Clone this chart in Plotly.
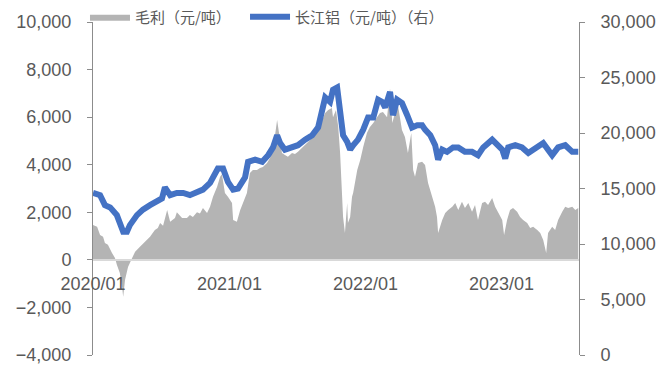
import plotly.graph_objects as go

# ---- data ----
margin_dates = [
    "2020-01-01", "2020-01-12", "2020-01-20", "2020-01-28", "2020-02-02", "2020-02-10", "2020-02-21",
    "2020-02-29", "2020-03-05", "2020-03-13", "2020-03-19", "2020-03-22", "2020-03-27", "2020-04-04",
    "2020-04-15", "2020-04-23", "2020-05-06", "2020-05-20", "2020-06-02", "2020-06-15", "2020-06-23",
    "2020-06-29", "2020-07-07", "2020-07-18", "2020-07-26", "2020-08-08", "2020-08-13", "2020-08-27",
    "2020-09-09", "2020-09-17", "2020-09-25", "2020-10-06", "2020-10-14", "2020-10-22", "2020-11-02",
    "2020-11-10", "2020-11-18", "2020-11-29", "2020-12-07", "2020-12-12", "2020-12-20", "2020-12-28",
    "2021-01-08", "2021-01-11", "2021-01-21", "2021-01-30", "2021-02-07", "2021-02-17", "2021-02-25",
    "2021-03-05", "2021-03-16", "2021-03-24", "2021-04-01", "2021-04-12", "2021-04-20", "2021-04-28",
    "2021-05-09", "2021-05-12", "2021-05-22", "2021-05-30", "2021-06-07", "2021-06-18", "2021-06-26",
    "2021-07-04", "2021-07-15", "2021-07-23", "2021-07-31", "2021-08-11", "2021-08-19", "2021-08-27",
    "2021-09-07", "2021-09-15", "2021-09-23", "2021-10-03", "2021-10-06", "2021-10-14", "2021-10-20",
    "2021-10-25", "2021-10-30", "2021-11-02", "2021-11-07", "2021-11-13", "2021-11-15", "2021-11-21",
    "2021-11-26", "2021-11-29", "2021-12-10", "2021-12-18", "2021-12-26", "2022-01-05", "2022-01-13",
    "2022-01-22", "2022-02-01", "2022-02-09", "2022-02-17", "2022-02-28", "2022-03-08", "2022-03-14",
    "2022-03-22", "2022-03-30", "2022-04-09", "2022-04-17", "2022-04-25", "2022-05-04", "2022-05-09",
    "2022-05-14", "2022-05-22", "2022-06-02", "2022-06-10", "2022-06-18", "2022-06-29", "2022-07-07",
    "2022-07-12", "2022-07-15", "2022-07-26", "2022-08-03", "2022-08-11", "2022-08-22", "2022-08-30",
    "2022-09-07", "2022-09-17", "2022-09-25", "2022-10-04", "2022-10-14", "2022-10-22", "2022-10-30",
    "2022-11-10", "2022-11-18", "2022-11-26", "2022-12-07", "2022-12-15", "2022-12-23", "2023-01-03",
    "2023-01-08", "2023-01-16", "2023-01-24", "2023-02-01", "2023-02-12", "2023-02-20", "2023-02-28",
    "2023-03-11", "2023-03-19", "2023-03-27", "2023-04-07", "2023-04-15", "2023-04-23", "2023-05-01",
    "2023-05-06", "2023-05-17", "2023-05-25", "2023-06-02", "2023-06-13", "2023-06-21", "2023-06-29",
    "2023-07-10", "2023-07-18", "2023-07-26",
]
margin_values = [
    1470, 1390, 1050, 970, 710, 630, 290,
    80, -210, -550, -1130, -1550, -840, -300,
    80, 340, 550, 760, 970, 1260, 1340,
    1550, 1430, 2100, 1600, 1760, 2000, 1760,
    1760, 1890, 1800, 2000, 1950, 2180, 1970,
    2230, 2650, 3070, 3490, 3600, 2810, 2650,
    2390, 1680, 1600, 2100, 2390, 2810, 3650,
    3780, 3780, 3860, 3900, 4070, 4280, 4620,
    5880, 5540, 4490, 4410, 4330, 4490, 4450,
    4540, 4700, 4830, 4960, 5120, 5330, 5540,
    5880, 6170, 6300, 6380, 6000, 6300, 5590,
    4490, 2810, 1800, 1130, 2390, 1550, 1800,
    2650, 2810, 3780, 4200, 4750, 5330, 5590,
    5750, 6000, 6170, 6220, 6000, 7200, 5750,
    6220, 6430, 5460, 5170, 4490, 5330, 3780,
    3490, 4070, 4120, 3990, 3230, 2650, 2230,
    1800, 1130, 1680, 1970, 2100, 2230, 2390,
    2100, 2440, 2180, 2390, 2020, 2310, 1680,
    2390, 2440, 2310, 2600, 2230, 1970, 1680,
    1050, 1680, 2100, 2180, 2020, 1800, 1680,
    1550, 1340, 1390, 1260, 1130, 840, 290,
    1130, 1390, 1260, 1680, 2020, 2230, 2180,
    2230, 2100, 2180,
]

alu_dates = [
    "2020-01-01", "2020-01-20", "2020-02-02", "2020-02-16", "2020-03-05", "2020-03-19", "2020-03-22",
    "2020-04-01", "2020-04-09", "2020-04-28", "2020-05-14", "2020-06-02", "2020-06-21", "2020-07-04",
    "2020-07-12", "2020-07-26", "2020-08-13", "2020-08-30", "2020-09-17", "2020-10-06", "2020-10-22",
    "2020-11-10", "2020-11-29", "2020-12-01", "2020-12-15", "2020-12-28", "2021-01-11", "2021-01-24",
    "2021-02-12", "2021-02-20", "2021-03-11", "2021-03-30", "2021-04-15", "2021-04-28", "2021-05-09",
    "2021-05-17", "2021-05-30", "2021-06-18", "2021-07-04", "2021-07-23", "2021-08-11", "2021-08-27",
    "2021-09-07", "2021-09-15", "2021-09-28", "2021-10-06", "2021-10-17", "2021-10-25", "2021-11-02",
    "2021-11-13", "2021-11-21", "2021-11-29", "2021-12-12", "2021-12-26", "2022-01-08", "2022-01-22",
    "2022-02-04", "2022-02-15", "2022-02-23", "2022-03-08", "2022-03-16", "2022-03-27", "2022-04-09",
    "2022-04-23", "2022-05-06", "2022-05-20", "2022-06-02", "2022-06-10", "2022-06-24", "2022-07-07",
    "2022-07-15", "2022-07-26", "2022-08-08", "2022-08-24", "2022-09-07", "2022-09-25", "2022-10-14",
    "2022-10-30", "2022-11-13", "2022-12-07", "2022-12-20", "2023-01-03", "2023-01-11", "2023-01-19",
    "2023-02-07", "2023-02-25", "2023-03-14", "2023-04-07", "2023-04-23", "2023-05-06", "2023-05-17",
    "2023-06-02", "2023-06-21", "2023-07-10", "2023-07-26",
]
alu_values = [
    14600, 14400, 13500, 13300, 12600, 11500, 11100,
    11100, 11700, 12600, 13100, 13500, 13800, 14100,
    15100, 14400, 14600, 14600, 14400, 14600, 14900,
    15500, 16500, 16800, 16800, 15600, 14900, 15000,
    16000, 17400, 17600, 17400, 18000, 18700, 19800,
    19100, 18500, 18700, 18900, 19400, 19800, 20500,
    22300, 23200, 22800, 23900, 24100, 22100, 19800,
    19200, 18500, 18900, 19400, 20300, 21400, 21400,
    23000, 22800, 22300, 23700, 21600, 23000, 22700,
    21600, 20500, 20700, 20700, 20300, 19800, 18900,
    17600, 18500, 18300, 18700, 18700, 18300, 18300,
    18000, 18700, 19400, 18900, 18500, 17700, 18700,
    18900, 18700, 18200, 18700, 19100, 18500, 18000,
    18700, 18900, 18300, 18300,
]

left_ticks = [-4000, -2000, 0, 2000, 4000, 6000, 8000, 10000]
right_ticks = [0, 5000, 10000, 15000, 20000, 25000, 30000]
x_tick_vals = ["2020-01-01", "2021-01-01", "2022-01-01", "2023-01-01"]
x_tick_text = ["2020/01", "2021/01", "2022/01", "2023/01"]

FONT = "Liberation Sans, Arial, Noto Sans CJK SC, sans-serif"
TXT = "#595959"
AX = "#8c8c8c"

fig = go.Figure()
fig.add_trace(go.Scatter(
    x=margin_dates, y=margin_values, name="毛利（元/吨）",
    mode="lines", fill="tozeroy", fillcolor="#b4b4b4",
    line=dict(width=0, color="#b4b4b4"), legend="legend",
))
fig.add_trace(go.Scatter(
    x=alu_dates, y=alu_values, name="长江铝（元/吨）（右）", yaxis="y2",
    mode="lines", line=dict(color="#4472c4", width=6), legend="legend2",
))

legend_common = dict(
    orientation="h", y=1.015, xanchor="left", yanchor="middle",
    font=dict(size=15, color=TXT, family="Noto Sans CJK SC, Liberation Sans"),
    bgcolor="rgba(0,0,0,0)", itemwidth=40,
)

fig.update_layout(
    width=670, height=367,
    margin=dict(l=93, r=91, t=22, b=12, autoexpand=False),
    paper_bgcolor="white", plot_bgcolor="white",
    font=dict(family=FONT, size=18, color=TXT),
    showlegend=True,
    legend=dict(x=-0.0165, **legend_common),
    legend2=dict(x=0.3128, **legend_common),
    xaxis=dict(
        type="date", range=["2020-01-01", "2023-07-28"],
        anchor="free", position=4 / 14,
        showline=True, linecolor="#d9d9d9", linewidth=2,
        showgrid=False, zeroline=False, ticks="",
        tickvals=x_tick_vals, ticktext=x_tick_text,
        ticklabelstandoff=8,
    ),
    yaxis=dict(
        range=[-4000, 10000], tickvals=left_ticks, tickformat=",",
        showline=True, linecolor=AX, linewidth=1,
        ticks="outside", ticklen=5, tickcolor=AX,
        showgrid=False, zeroline=False, ticklabelstandoff=12,
    ),
    yaxis2=dict(
        range=[0, 30000], tickvals=right_ticks, tickformat=",",
        overlaying="y", side="right", anchor="x",
        showline=True, linecolor=AX, linewidth=1,
        ticks="outside", ticklen=5, tickcolor=AX,
        showgrid=False, zeroline=False, ticklabelstandoff=12,
    ),
)

fig.write_html("out.html")
